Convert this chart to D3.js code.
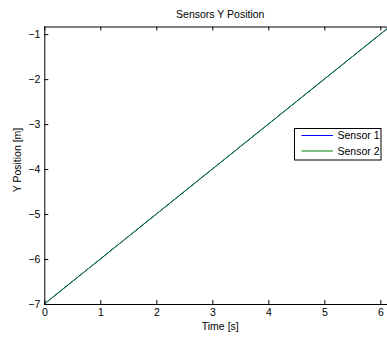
<!DOCTYPE html>
<html>
<head>
<meta charset="utf-8">
<script src="https://cdn.jsdelivr.net/npm/d3@7"></script>
<style>
  html, body { margin: 0; padding: 0; background: #fff; }
  svg { display: block; font-family: "Liberation Sans", Arial, Helvetica, sans-serif; }
</style>
</head>
<body>
<svg id="chart" width="387" height="338"></svg>
<script>
// Sensor positions over time
const time = [0, 1, 2, 3, 4, 5, 6, 2 * Math.PI];
const sensor1 = [-7, -6, -5, -4, -3, -2, -1, -7 + 2 * Math.PI];
const sensor2 = [-7, -6, -5, -4, -3, -2, -1, -7 + 2 * Math.PI];
const seriesNames = ["Sensor 1", "Sensor 2"];
const seriesColors = ["#0000ff", "#008000"];
const xTicks = [0, 1, 2, 3, 4, 5, 6];
const yTicks = [-7, -6, -5, -4, -3, -2, -1];
const xDomain = [0, 2 * Math.PI];
const yDomain = [-7, -0.83];

const svg = d3.select("#chart");
const plotLeft = 44.3, plotRight = 396.2, plotTop = 26.5, plotBottom = 304;

const x = d3.scaleLinear().domain(xDomain).range([plotLeft, plotRight]);
const y = d3.scaleLinear().domain(yDomain).range([plotBottom, plotTop]);

svg.append("defs").append("clipPath").attr("id", "plotClip")
  .append("rect").attr("x", plotLeft).attr("y", plotTop)
  .attr("width", plotRight - plotLeft).attr("height", plotBottom - plotTop);

// Data lines
const line = d3.line().x((d, i) => x(time[i])).y(d => y(d));
[sensor1, sensor2].forEach((s, k) => {
  svg.append("path")
    .attr("clip-path", "url(#plotClip)")
    .attr("d", line(s))
    .attr("fill", "none")
    .attr("stroke", seriesColors[k])
    .attr("stroke-width", 1);
});

const fmt = d => d < 0 ? "\u2212" + Math.abs(d) : String(d);

// Axes (ticks drawn inward, box style)
const xAxis = d3.axisBottom(x).tickValues(xTicks).tickSize(-4).tickPadding(5).tickFormat(fmt);
const gx = svg.append("g").attr("transform", `translate(0,${plotBottom})`).call(xAxis);
const xTopAxis = d3.axisTop(x).tickValues(xTicks).tickSize(-4).tickFormat("");
const gxt = svg.append("g").attr("transform", `translate(0,${plotTop})`).call(xTopAxis);
const yAxis = d3.axisLeft(y).tickValues(yTicks).tickSize(-4).tickPadding(4).tickFormat(fmt);
const gy = svg.append("g").attr("transform", `translate(${plotLeft},0)`).call(yAxis);

[gx, gxt, gy].forEach(g => {
  g.select(".domain").attr("stroke", "#000").attr("stroke-width", 1);
  g.selectAll(".tick line").attr("stroke", "#000");
  g.selectAll("text").attr("font-size", 10.5).attr("fill", "#000")
    .attr("font-family", "'Liberation Sans', Arial, sans-serif");
});
gx.select(".domain").attr("d", `M${plotLeft},0.5H${plotRight}`);
gxt.select(".domain").attr("d", `M${plotLeft},0.5H${plotRight}`);
gy.select(".domain").attr("d", `M0.5,${plotTop}V${plotBottom}`);

// Title and axis labels
svg.append("text").attr("x", (plotLeft + plotRight) / 2).attr("y", 17.5)
  .attr("text-anchor", "middle").attr("font-size", 10.5).text("Sensors Y Position");
svg.append("text").attr("x", (plotLeft + plotRight) / 2).attr("y", 329.5)
  .attr("text-anchor", "middle").attr("font-size", 10.5).text("Time [s]");
svg.append("text")
  .attr("transform", `translate(20.5,160) rotate(-90)`)
  .attr("text-anchor", "middle").attr("font-size", 10.5).text("Y Position [m]");

// Legend
const lg = svg.append("g");
lg.append("rect").attr("x", 294.5).attr("y", 128.5).attr("width", 86.5).attr("height", 31.5)
  .attr("fill", "#fff").attr("stroke", "#000").attr("stroke-width", 1);
seriesNames.forEach((name, i) => {
  const yy = 135.5 + i * 15.5;
  lg.append("line").attr("x1", 301.5).attr("x2", 333).attr("y1", yy).attr("y2", yy)
    .attr("stroke", seriesColors[i]).attr("stroke-width", 1);
  lg.append("text").attr("x", 337.5).attr("y", yy + 3.8).attr("font-size", 10.5).text(name);
});
</script>
</body>
</html>
